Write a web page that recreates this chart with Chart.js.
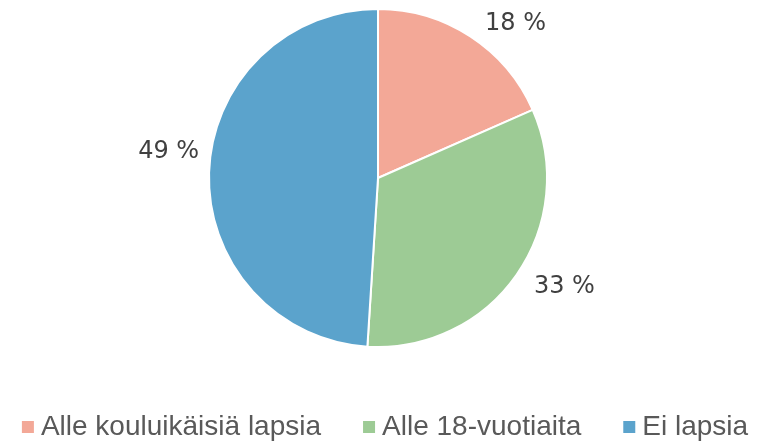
<!DOCTYPE html>
<html>
<head>
<meta charset="utf-8">
<script src="https://cdn.jsdelivr.net/npm/chart.js@4.4.1/dist/chart.umd.min.js"></script>
<style>
    html, body { margin: 0; padding: 0; background: #ffffff; }
    #wrap { width: 770px; height: 445px; }
</style>
</head>
<body>
<div id="wrap"><canvas id="pieChart" width="770" height="445"></canvas></div>
<script>
const categories = ['Alle kouluikäisiä lapsia', 'Alle 18-vuotiaita', 'Ei lapsia'];
const shares = [18.4, 32.6, 49.0];
const colors = ['#F3A897', '#9DCB95', '#5BA3CC'];
// small hand tweaks so labels sit where the original "best fit" put them
const labelNudge = [[22, 5], [13, 0], [2, -20]];

// Percent labels just outside each slice
const outsideLabels = {
    id: 'outsideLabels',
    afterDatasetsDraw(chart) {
        const ctx = chart.ctx;
        const meta = chart.getDatasetMeta(0);
        ctx.save();
        ctx.font = '24px "DejaVu Sans", Verdana, sans-serif';
        ctx.fillStyle = '#404040';
        meta.data.forEach((arc, i) => {
            const p = arc.getProps(['x', 'y', 'startAngle', 'endAngle', 'outerRadius'], true);
            const mid = (p.startAngle + p.endAngle) / 2;
            const cos = Math.cos(mid);
            const sin = Math.sin(mid);
            const text = Math.round(shares[i]) + ' %';
            const w = ctx.measureText(text).width;
            const h = 19;
            const d = p.outerRadius + 12;
            const cx = p.x + cos * d + cos * w / 2 + labelNudge[i][0];
            const cy = p.y + sin * d + sin * h / 2 + labelNudge[i][1];
            ctx.textAlign = 'center';
            ctx.textBaseline = 'middle';
            ctx.fillText(text, cx, cy);
        });
        ctx.restore();
    }
};

// Legend row at the bottom, centred
const bottomLegend = {
    id: 'bottomLegend',
    afterDraw(chart) {
        const ctx = chart.ctx;
        const box = 12;
        const gap = 7;
        const itemGap = 42;
        ctx.save();
        ctx.font = '28px "Liberation Sans", Arial, sans-serif';
        ctx.textBaseline = 'middle';
        ctx.textAlign = 'left';
        const widths = categories.map(c => ctx.measureText(c).width);
        const total = widths.reduce((a, b) => a + b, 0) + categories.length * (box + gap) + (categories.length - 1) * itemGap;
        let x = (chart.width - total) / 2;
        const y = 427;
        categories.forEach((c, i) => {
            ctx.fillStyle = colors[i];
            ctx.fillRect(x, y - box / 2, box, box);
            x += box + gap;
            ctx.fillStyle = '#595959';
            ctx.fillText(c, x, y);
            x += widths[i] + itemGap;
        });
        ctx.restore();
    }
};

const ctx = document.getElementById('pieChart').getContext('2d');
new Chart(ctx, {
    type: 'pie',
    data: {
        labels: categories,
        datasets: [
            {
                data: shares,
                backgroundColor: colors,
                borderColor: '#ffffff',
                borderWidth: 2,
            },
        ],
    },
    options: {
        responsive: false,
        animation: false,
        layout: {
            padding: { top: 8, left: 0, right: 14, bottom: 97 },
        },
        plugins: {
            legend: { display: false },
            tooltip: { enabled: false },
        },
    },
    plugins: [outsideLabels, bottomLegend],
});
</script>
</body>
</html>
